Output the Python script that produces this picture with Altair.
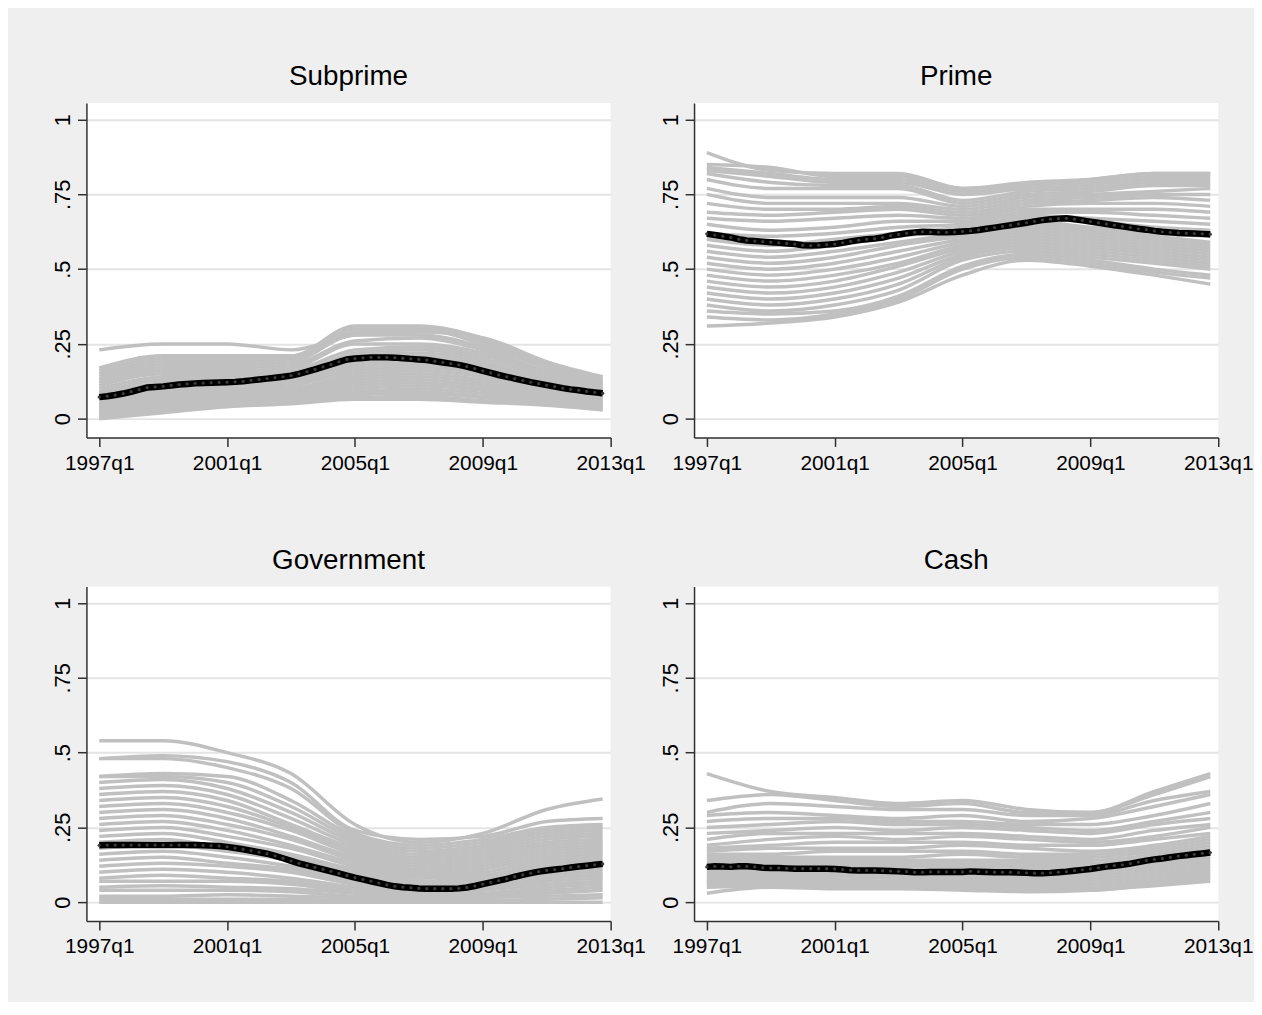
import altair as alt
import pandas as pd

FONT = "Liberation Sans, Arial, Helvetica, sans-serif"

PANELS = ["Subprime", "Prime", "Government", "Cash"]
YEARS = list(range(1997, 2013))
QUARTERS = [y + q / 4 for y in YEARS for q in range(4)]
GREY_T = [1997.0, 1999.0, 2001.0, 2003.0, 2005.0, 2007.0, 2009.0, 2011.0, 2012.75]
X_TICKS = [1997, 2001, 2005, 2009, 2013]
Y_TICKS = [0, 0.25, 0.5, 0.75, 1]

# ---- mean (black) series, quarterly 1997q1..2012q4 ----
SUBPRIME_MEAN = [
    .072, .075, .079, .084, .090, .097, .104, .106, .108, .111, .114, .116,
    .118, .119, .120, .121, .122, .123, .125, .128, .131, .134, .137, .140,
    .144, .150, .157, .165, .173, .181, .190, .198, .201, .203, .205, .205,
    .205, .204, .202, .200, .198, .196, .192, .188, .184, .180, .174, .167,
    .160, .153, .146, .140, .134, .128, .122, .117, .112, .107, .102, .098,
    .095, .091, .088, .085]
PRIME_MEAN = [
    .618, .614, .610, .606, .600, .596, .594, .592, .590, .588, .586, .584,
    .580, .579, .580, .582, .584, .588, .593, .597, .600, .602, .606, .612,
    .616, .620, .623, .625, .624, .623, .623, .624, .626, .628, .631, .635,
    .639, .643, .647, .651, .655, .660, .664, .667, .669, .670, .667, .663,
    .659, .655, .651, .647, .643, .639, .635, .632, .628, .625, .623, .621,
    .620, .619, .618, .617]
GOVERNMENT_MEAN = [
    .190, .191, .191, .191, .191, .191, .191, .191, .191, .191, .191, .191,
    .191, .190, .189, .188, .185, .181, .177, .172, .167, .162, .155, .147,
    .138, .130, .123, .116, .110, .103, .096, .089, .082, .076, .070, .064,
    .058, .053, .050, .048, .046, .045, .045, .045, .045, .046, .049, .054,
    .060, .066, .072, .078, .085, .091, .097, .102, .106, .109, .112, .116,
    .119, .122, .125, .128]
CASH_MEAN = [
    .118, .120, .119, .118, .120, .120, .118, .115, .114, .114, .113, .112,
    .112, .112, .112, .112, .111, .109, .107, .106, .106, .106, .105, .104,
    .103, .102, .100, .100, .101, .101, .101, .101, .101, .103, .102, .101,
    .100, .100, .100, .099, .098, .097, .097, .098, .100, .102, .105, .108,
    .111, .115, .119, .122, .125, .129, .134, .139, .143, .146, .150, .154,
    .157, .160, .163, .166]

# ---- individual (grey) series, at GREY_T ----
SUBPRIME_GREY = [
    [.23, .25, .25, .23, .28, .29, .27, .19, .13],
    [.17, .21, .21, .21, .31, .31, .27, .19, .14],
    [.16, .20, .20, .20, .30, .30, .26, .18, .13],
    [.15, .19, .19, .20, .29, .30, .25, .18, .13],
    [.14, .18, .18, .19, .28, .28, .24, .17, .12],
    [.13, .17, .17, .18, .26, .27, .23, .16, .12],
    [.12, .16, .16, .17, .25, .25, .22, .15, .11],
    [.11, .15, .15, .16, .23, .24, .21, .15, .11],
    [.10, .14, .145, .15, .22, .23, .20, .14, .10],
    [.09, .13, .135, .14, .21, .22, .19, .13, .10],
    [.085, .12, .13, .14, .20, .21, .18, .13, .095],
    [.08, .11, .12, .13, .19, .20, .17, .12, .09],
    [.07, .10, .115, .125, .18, .19, .165, .12, .085],
    [.065, .09, .11, .12, .17, .18, .155, .11, .08],
    [.06, .085, .10, .11, .16, .17, .15, .105, .075],
    [.05, .08, .095, .10, .15, .16, .14, .10, .07],
    [.045, .07, .09, .095, .14, .15, .13, .095, .065],
    [.04, .065, .08, .09, .13, .14, .12, .09, .06],
    [.035, .06, .075, .085, .12, .13, .11, .085, .055],
    [.03, .05, .07, .08, .11, .12, .10, .08, .05],
    [.025, .045, .065, .075, .10, .11, .095, .07, .05],
    [.02, .04, .06, .07, .09, .10, .085, .065, .045],
    [.015, .035, .055, .065, .085, .09, .075, .06, .04],
    [.01, .03, .05, .06, .08, .085, .07, .055, .035],
    [.005, .025, .045, .055, .07, .075, .06, .05, .03],
    [.00, .02, .04, .05, .065, .065, .055, .045, .03],
]
PRIME_GREY = [
    [.89, .83, .82, .82, .77, .79, .80, .82, .82],
    [.85, .84, .81, .81, .77, .78, .80, .82, .82],
    [.84, .82, .80, .80, .76, .78, .79, .81, .81],
    [.83, .81, .79, .79, .75, .77, .78, .80, .80],
    [.82, .79, .78, .78, .73, .76, .77, .79, .79],
    [.80, .77, .77, .77, .72, .75, .76, .78, .78],
    [.77, .74, .74, .74, .71, .74, .75, .76, .77],
    [.75, .72, .72, .72, .70, .73, .74, .75, .75],
    [.72, .70, .70, .71, .69, .72, .73, .74, .73],
    [.69, .68, .69, .70, .68, .71, .72, .72, .71],
    [.67, .66, .67, .68, .67, .70, .70, .70, .69],
    [.65, .63, .64, .66, .66, .69, .69, .68, .67],
    [.62, .61, .62, .64, .65, .68, .67, .66, .65],
    [.60, .58, .60, .62, .64, .67, .66, .64, .63],
    [.58, .56, .58, .61, .63, .66, .64, .62, .61],
    [.56, .54, .56, .59, .62, .65, .63, .61, .59],
    [.54, .52, .54, .58, .61, .64, .62, .60, .58],
    [.52, .50, .52, .56, .60, .63, .61, .59, .57],
    [.50, .48, .50, .54, .59, .62, .60, .58, .56],
    [.48, .46, .48, .52, .58, .61, .59, .57, .55],
    [.46, .44, .46, .51, .57, .60, .58, .56, .54],
    [.44, .42, .44, .49, .56, .59, .57, .55, .53],
    [.42, .40, .42, .47, .55, .58, .56, .54, .52],
    [.40, .38, .40, .45, .54, .57, .55, .53, .51],
    [.38, .36, .38, .43, .53, .56, .54, .52, .50],
    [.36, .35, .36, .41, .51, .55, .53, .50, .48],
    [.34, .33, .35, .40, .50, .54, .52, .49, .47],
    [.31, .32, .34, .39, .48, .53, .51, .48, .45],
]
GOVERNMENT_GREY = [
    [.54, .54, .50, .43, .26, .20, .23, .31, .345],
    [.48, .49, .47, .40, .24, .21, .22, .27, .28],
    [.48, .48, .45, .38, .23, .19, .21, .25, .26],
    [.42, .43, .42, .34, .22, .18, .20, .24, .25],
    [.42, .42, .40, .32, .21, .17, .19, .23, .24],
    [.40, .41, .38, .30, .20, .16, .18, .22, .23],
    [.38, .39, .36, .28, .19, .15, .17, .21, .22],
    [.36, .37, .34, .26, .18, .14, .16, .20, .21],
    [.34, .35, .32, .25, .17, .13, .15, .19, .20],
    [.32, .33, .30, .24, .16, .12, .14, .18, .19],
    [.30, .31, .28, .22, .15, .11, .13, .17, .18],
    [.28, .29, .26, .21, .14, .10, .12, .16, .17],
    [.26, .27, .24, .19, .13, .09, .11, .15, .16],
    [.24, .25, .22, .18, .12, .085, .10, .14, .15],
    [.22, .23, .20, .16, .11, .08, .09, .13, .14],
    [.20, .21, .18, .15, .10, .07, .085, .12, .13],
    [.18, .19, .17, .14, .09, .06, .08, .11, .12],
    [.16, .17, .15, .12, .08, .055, .07, .10, .11],
    [.14, .15, .13, .11, .07, .05, .06, .09, .10],
    [.12, .13, .12, .10, .06, .04, .05, .08, .09],
    [.10, .11, .10, .08, .05, .035, .045, .07, .08],
    [.08, .09, .08, .07, .04, .03, .04, .06, .07],
    [.07, .07, .07, .06, .035, .025, .03, .05, .06],
    [.05, .055, .05, .045, .03, .02, .025, .04, .05],
    [.04, .04, .04, .035, .02, .015, .02, .03, .04],
    [.02, .02, .025, .02, .015, .01, .015, .02, .025],
    [.01, .01, .01, .01, .005, .005, .005, .01, .015],
    [.00, .00, .00, .00, .00, .00, .00, .00, .00],
]
CASH_GREY = [
    [.43, .37, .35, .33, .34, .31, .30, .37, .43],
    [.34, .36, .34, .32, .33, .30, .30, .36, .42],
    [.30, .33, .32, .31, .31, .29, .29, .34, .37],
    [.29, .30, .29, .28, .29, .27, .28, .32, .36],
    [.27, .28, .28, .27, .27, .26, .26, .29, .33],
    [.25, .26, .27, .26, .26, .25, .24, .27, .30],
    [.23, .24, .25, .24, .25, .24, .23, .26, .28],
    [.21, .23, .23, .23, .23, .22, .21, .24, .26],
    [.19, .21, .22, .21, .22, .21, .20, .22, .25],
    [.18, .19, .20, .20, .20, .19, .19, .21, .23],
    [.17, .18, .18, .18, .19, .18, .17, .19, .22],
    [.16, .16, .17, .17, .17, .16, .16, .18, .21],
    [.15, .15, .15, .15, .16, .15, .15, .17, .20],
    [.14, .14, .14, .14, .14, .14, .14, .16, .19],
    [.13, .13, .13, .13, .13, .13, .13, .15, .18],
    [.12, .12, .12, .12, .12, .12, .12, .14, .17],
    [.11, .11, .11, .11, .11, .11, .11, .13, .16],
    [.10, .10, .10, .10, .10, .10, .10, .12, .15],
    [.095, .09, .09, .09, .09, .09, .09, .11, .14],
    [.09, .085, .085, .08, .08, .08, .08, .10, .13],
    [.08, .08, .075, .07, .07, .07, .07, .09, .12],
    [.075, .07, .07, .065, .06, .06, .06, .08, .11],
    [.07, .065, .06, .06, .055, .05, .05, .07, .10],
    [.06, .06, .055, .055, .05, .045, .045, .065, .09],
    [.05, .055, .05, .05, .045, .04, .04, .06, .08],
    [.03, .05, .045, .045, .04, .035, .04, .055, .07],
]

PANEL_W = 528
PANEL_H = 337
X_DOMAIN = [1996.6, 2013.0]
Y_DOMAIN = [-0.063, 1.056]

x_axis = alt.Axis(
    values=X_TICKS, labelExpr="format(datum.value, 'd') + 'q1'", grid=False, title=None,
    labelFlush=False, labelOverlap=False, labelFontSize=21, labelPadding=6,
    tickSize=9,
)
y_axis = alt.Axis(
    values=Y_TICKS,
    labelExpr="datum.value == 0 ? '0' : (datum.value == 1 ? '1' : replace(format(datum.value, '.2~f'), '0.', '.'))",
    labelAngle=-90, labelAlign="center", labelBaseline="bottom", grid=True,
    gridColor="#e4e4e4", gridWidth=2, title=None, labelFontSize=22, labelPadding=3,
    tickSize=9, labelOverlap=False,
)


def panel(name, grey, mean):
    g_rows = [{"t": t, "v": v, "s": i} for i, row in enumerate(grey) for t, v in zip(GREY_T, row)]
    m_rows = [{"t": t, "v": v} for t, v in zip(QUARTERS, mean)]
    x = alt.X("t:Q", scale=alt.Scale(domain=X_DOMAIN, nice=False, zero=False), axis=x_axis)
    y = alt.Y("v:Q", scale=alt.Scale(domain=Y_DOMAIN, nice=False, zero=False), axis=y_axis)
    grey_lines = alt.Chart(pd.DataFrame(g_rows)).mark_line(
        color="#c0c0c0", strokeWidth=3.5, interpolate="monotone", clip=True
    ).encode(x=x, y=y, detail="s:N")
    mdf = pd.DataFrame(m_rows)
    mean_line = alt.Chart(mdf).mark_line(color="#000000", strokeWidth=6.5).encode(x=x, y=y)
    mean_pts = alt.Chart(mdf).mark_circle(color="#3a3a3a", size=11, opacity=1).encode(x=x, y=y)
    return alt.layer(grey_lines, mean_line, mean_pts).properties(
        width=PANEL_W, height=PANEL_H,
        title=alt.TitleParams(name, fontSize=28, font=FONT, fontWeight="normal", color="#000000", offset=12),
    )


p = [panel(n, g, m) for n, g, m in zip(
    PANELS,
    [SUBPRIME_GREY, PRIME_GREY, GOVERNMENT_GREY, CASH_GREY],
    [SUBPRIME_MEAN, PRIME_MEAN, GOVERNMENT_MEAN, CASH_MEAN],
)]

row1 = alt.hconcat(p[0], p[1], spacing=84, bounds="flush")
row2 = alt.hconcat(p[2], p[3], spacing=84, bounds="flush")

chart = alt.vconcat(row1, row2, spacing=74).properties(
    background="#efefef",
    padding={"left": 44, "top": 52, "right": 0, "bottom": 42},
).configure_view(
    fill="#ffffff", strokeWidth=0,
).configure_axis(
    labelFont=FONT, labelColor="#000000", domainColor="#303030", domainWidth=1.5,
    tickColor="#303030", tickWidth=1.5,
)

chart.save("out.html", embed_options={"renderer": "svg", "actions": False})
